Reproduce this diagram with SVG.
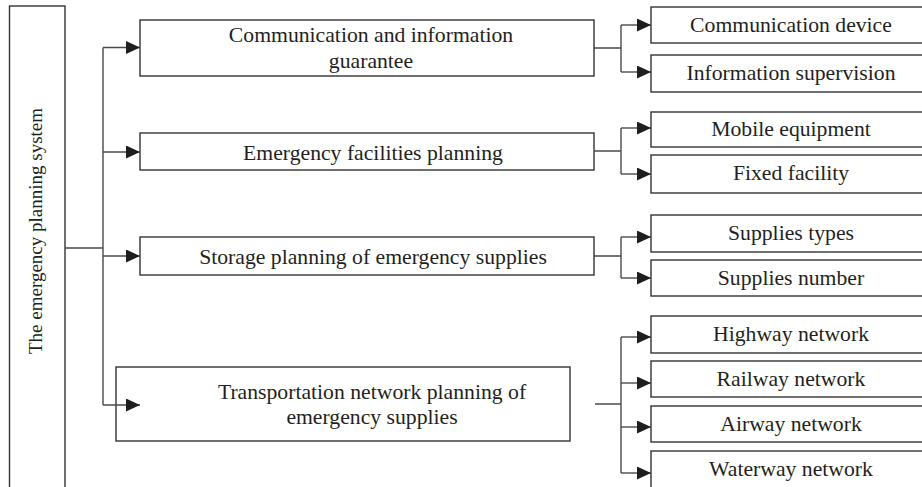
<svg xmlns="http://www.w3.org/2000/svg" width="922" height="487" viewBox="0 0 922 487">
  <style>
    .box { fill: #ffffff; stroke: #333333; stroke-width: 1.4; }
    .lbl { font-family: "Liberation Serif", "Times New Roman", serif; font-size: 21.7px; fill: #231f20; text-anchor: middle; }
    .side { font-size: 19px; }
    .wire { fill: none; stroke: #4a4a4a; stroke-width: 1.4; }
  </style>
  <defs>
    <marker id="arrow" markerUnits="userSpaceOnUse" markerWidth="15" markerHeight="14" refX="14" refY="6.5" orient="auto">
      <path d="M0,0 L14,6.5 L0,13 Z" fill="#1e1e1e"/>
    </marker>
  </defs>

  <rect width="922" height="487" fill="#ffffff"/>

  <!-- root -->
  <g id="root">
    <rect class="box" x="9.5" y="6" width="55.5" height="500"/>
    <text class="lbl side" transform="translate(41.5,231) rotate(-90)" x="0" y="0">The emergency planning system</text>
  </g>

  <!-- second level -->
  <g id="comm">
    <rect class="box" x="140" y="20" width="454" height="56"/>
    <text class="lbl" x="371" y="42">Communication and information</text>
    <text class="lbl" x="371" y="68">guarantee</text>
  </g>
  <g id="facilities">
    <rect class="box" x="140" y="133" width="454" height="37"/>
    <text class="lbl" x="373" y="160">Emergency facilities planning</text>
  </g>
  <g id="storage">
    <rect class="box" x="140" y="237" width="454" height="38"/>
    <text class="lbl" x="373" y="264">Storage planning of emergency supplies</text>
  </g>
  <g id="transport">
    <rect class="box" x="116" y="367" width="454" height="74"/>
    <text class="lbl" x="372" y="399">Transportation network planning of</text>
    <text class="lbl" x="372" y="424">emergency supplies</text>
  </g>

  <!-- third level -->
  <g id="comm-device">
    <rect class="box" x="651" y="7" width="280" height="36"/>
    <text class="lbl" x="791" y="32">Communication device</text>
  </g>
  <g id="info-supervision">
    <rect class="box" x="651" y="55" width="280" height="37"/>
    <text class="lbl" x="791" y="80">Information supervision</text>
  </g>
  <g id="mobile-equipment">
    <rect class="box" x="651" y="112" width="280" height="35"/>
    <text class="lbl" x="791" y="136">Mobile equipment</text>
  </g>
  <g id="fixed-facility">
    <rect class="box" x="651" y="155" width="280" height="38"/>
    <text class="lbl" x="791" y="180">Fixed facility</text>
  </g>
  <g id="supplies-types">
    <rect class="box" x="651" y="215" width="280" height="37"/>
    <text class="lbl" x="791" y="240">Supplies types</text>
  </g>
  <g id="supplies-number">
    <rect class="box" x="651" y="260" width="280" height="36"/>
    <text class="lbl" x="791" y="285">Supplies number</text>
  </g>
  <g id="highway">
    <rect class="box" x="651" y="316" width="280" height="37"/>
    <text class="lbl" x="791" y="341">Highway network</text>
  </g>
  <g id="railway">
    <rect class="box" x="651" y="361" width="280" height="36"/>
    <text class="lbl" x="791" y="386">Railway network</text>
  </g>
  <g id="airway">
    <rect class="box" x="651" y="406" width="280" height="36"/>
    <text class="lbl" x="791" y="431">Airway network</text>
  </g>
  <g id="waterway">
    <rect class="box" x="651" y="451" width="280" height="40"/>
    <text class="lbl" x="791" y="476">Waterway network</text>
  </g>

  <!-- connectors -->
  <g id="connectors">
    <path class="wire" d="M65,248 H103 M103,47.5 V405"/>
    <path class="wire" d="M103,47.5 H140" marker-end="url(#arrow)"/>
    <path class="wire" d="M103,152 H140" marker-end="url(#arrow)"/>
    <path class="wire" d="M103,256 H140" marker-end="url(#arrow)"/>
    <path class="wire" d="M103,405 H140" marker-end="url(#arrow)"/>

    <path class="wire" d="M594,48 H621 M621,25 V72"/>
    <path class="wire" d="M621,25 H651" marker-end="url(#arrow)"/>
    <path class="wire" d="M621,72 H651" marker-end="url(#arrow)"/>

    <path class="wire" d="M594,151 H621 M621,128 V174"/>
    <path class="wire" d="M621,128 H651" marker-end="url(#arrow)"/>
    <path class="wire" d="M621,174 H651" marker-end="url(#arrow)"/>

    <path class="wire" d="M594,256 H621 M621,237 V278"/>
    <path class="wire" d="M621,237 H651" marker-end="url(#arrow)"/>
    <path class="wire" d="M621,278 H651" marker-end="url(#arrow)"/>

    <path class="wire" d="M595,404 H621 M621,337 V473"/>
    <path class="wire" d="M621,337 H651" marker-end="url(#arrow)"/>
    <path class="wire" d="M621,383 H651" marker-end="url(#arrow)"/>
    <path class="wire" d="M621,427 H651" marker-end="url(#arrow)"/>
    <path class="wire" d="M621,473 H651" marker-end="url(#arrow)"/>
  </g>
</svg>
